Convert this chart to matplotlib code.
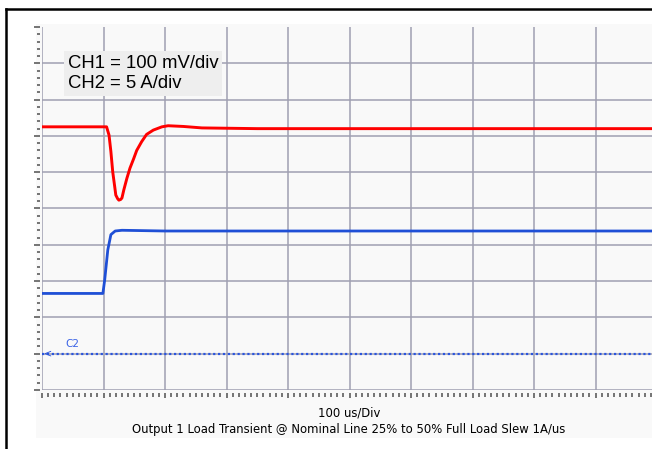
import matplotlib
matplotlib.use("Agg")
import matplotlib.pyplot as plt
from matplotlib.lines import Line2D
from matplotlib.patches import Rectangle
from matplotlib.ticker import MultipleLocator

# CH1: output voltage deviation (mV), 100 mV/div
t_ch1 = [0, 105, 109, 112, 115, 118, 120, 123, 125, 128, 130, 133, 138, 143, 149, 154, 162,
         170, 181, 195, 205, 230, 260, 350, 1000]
ch1_mv = [0, 0, -23, -68, -124, -162, -188, -198, -202, -200, -196, -174, -142, -114, -88, -65,
          -41, -21, -9, 0, 3, 1, -3, -5, -5]

# CH2: load current (A), 5 A/div
t_ch2 = [0, 99, 102, 107, 112, 119, 130, 200, 1000]
ch2_a = [8.3, 8.3, 10.2, 14.3, 16.4, 16.9, 17.0, 16.9, 16.9]

ch1_scale = 100.0   # mV/div
ch2_scale = 5.0     # A/div
ch1_pos = 7.25      # trace offset, div
ch2_pos = 1.0       # C2 ground marker, div

W, H = 652, 449
fig = plt.figure(figsize=(W / 100, H / 100), dpi=100)

def fx(px):
    return px / W

def fy(py):
    return 1 - py / H

# scope screen background + outer frame
fig.add_artist(Rectangle((fx(36), fy(438)), fx(660 - 36), (438 - 24) / H,
                         transform=fig.transFigure, facecolor="#f9f9f9", edgecolor="none", zorder=0))
fig.add_artist(Line2D([fx(6), fx(6)], [fy(9), 0], transform=fig.transFigure, color="black", lw=1.8))
fig.add_artist(Line2D([fx(6), 1], [fy(9), fy(9)], transform=fig.transFigure, color="black", lw=1.8))

ax = fig.add_axes([fx(42), fy(390), 615 / W, 363 / H])
ax.set_facecolor("#f9f9f9")
ax.set_xlim(0, 1000)
ax.set_ylim(0, 10)

ax.xaxis.set_major_locator(MultipleLocator(100))
ax.xaxis.set_minor_locator(MultipleLocator(10))
ax.yaxis.set_major_locator(MultipleLocator(1))
ax.yaxis.set_minor_locator(MultipleLocator(0.2))
ax.set_xticklabels([])
ax.set_yticklabels([])

for s in ax.spines.values():
    s.set_visible(False)
ax.spines["bottom"].set_position(("outward", 2.2))
ax.spines["left"].set_position(("outward", 1.5))

ax.tick_params(axis="x", which="major", length=3.5, width=1.1, color="#505050", direction="out")
ax.tick_params(axis="x", which="minor", length=2.8, width=1.1, color="#505050", direction="out")
ax.tick_params(axis="y", which="major", length=4, width=1.1, color="#505050", direction="out")
ax.tick_params(axis="y", which="minor", length=2.2, width=1.1, color="#505050", direction="out")

# graticule (no top line)
for v in range(0, 10):
    ax.axhline(v, color="#a0a0b2", lw=1.1, zorder=1)
for v in range(0, 1000, 100):
    ax.axvline(v, color="#a0a0b2", lw=1.1, zorder=1)

ch1 = [ch1_pos + v / ch1_scale for v in ch1_mv]
ch2 = [ch2_pos + v / ch2_scale for v in ch2_a]

ax.plot(t_ch1, ch1, color="#ff0000", lw=2.1, zorder=3)
ax.plot(t_ch2, ch2, color="#1f4fd6", lw=2.0, zorder=3)

# C2 ground reference
ax.axhline(ch2_pos, color="#2a55dd", lw=1.6, ls=(0, (1, 1.2)), zorder=2)
ax.text(3, ch2_pos, "<", color="#2a55dd", fontsize=7, va="center", ha="left", zorder=4)
ax.text(38, ch2_pos + 0.13, "C2", color="#3b63e6", fontsize=7.5, va="bottom", ha="left",
        family="DejaVu Sans", zorder=4)

ax.text(fx(68), fy(55), "CH1 = 100 mV/div\nCH2 = 5 A/div", transform=fig.transFigure,
        family="Liberation Sans", fontsize=13.3, va="top", ha="left", linespacing=1.25,
        bbox=dict(boxstyle="square,pad=0.2", facecolor="#eeeeee", edgecolor="none"), zorder=5)

fig.text(fx(349), fy(416), "100 us/Div", family="DejaVu Sans", fontsize=8.4, ha="center", va="baseline")
fig.text(fx(349), fy(433), "Output 1 Load Transient @ Nominal Line 25% to 50% Full Load Slew 1A/us",
         family="DejaVu Sans", fontsize=8.4, ha="center", va="baseline")

fig.savefig("out.png", dpi=100)
